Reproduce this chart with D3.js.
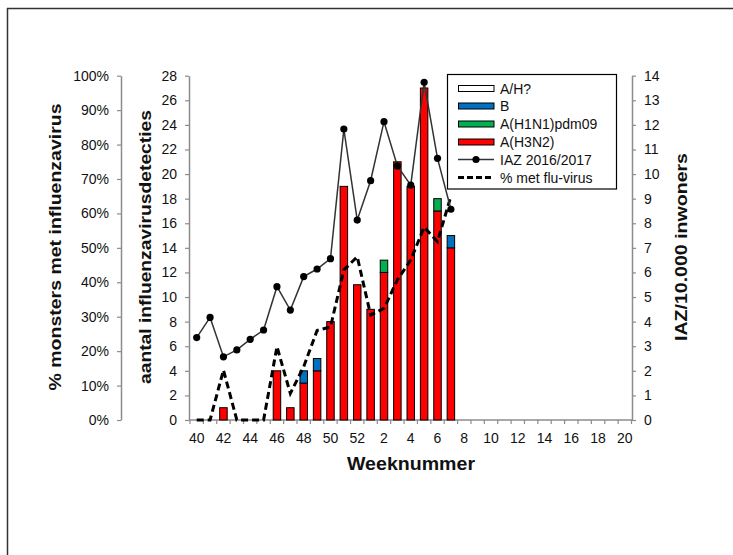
<!DOCTYPE html>
<html><head><meta charset="utf-8">
<script src="https://cdn.jsdelivr.net/npm/d3@7"></script>
<style>body{margin:0;background:#fff}svg{display:block}text{font-family:"Liberation Sans",Arial,sans-serif;fill:#111}</style>
</head><body><svg id="c" width="733" height="555"></svg>
<script>
const weeks = [40,41,42,43,44,45,46,47,48,49,50,51,52,1,2,3,4,5,6,7,8,9,10,11,12,13,14,15,16,17,18,19,20];
const weekLabels = [40,42,44,46,48,50,52,2,4,6,8,10,12,14,16,18,20];
const h3n2 = [0,0,1,0,0,0,4,1,3,4,8,19,11,9,12,21,19,27,17,14];
const h1n1 = [0,0,0,0,0,0,0,0,0,0,0,0,0,0,1,0,0,0,1,0];
const fluB = [0,0,0,0,0,0,0,0,1,1,0,0,0,0,0,0,0,0,0,1];
const ahUnknown = [0,0,0,0,0,0,0,0,0,0,0,0,0,0,0,0,0,0,0,0];
const iaz = [3.35,4.17,2.57,2.85,3.28,3.66,5.42,4.47,5.83,6.14,6.56,11.83,8.13,9.73,12.13,10.33,9.55,13.73,10.64,8.57];
const pctFlu = [0,0,0.145,0,0,0,0.213,0.077,0.155,0.26,0.27,0.436,0.474,0.305,0.324,0.407,0.465,0.56,0.518,0.65];
const pctTicks = [0,0.1,0.2,0.3,0.4,0.5,0.6,0.7,0.8,0.9,1];
const countTicks = d3.range(0,29,2);
const iazTicks = d3.range(0,15,1);
const seriesNames = ["A/H?","B","A(H1N1)pdm09","A(H3N2)"];
const seriesColors = {"A/H?":"#ffffff","B":"#0070c0","A(H1N1)pdm09":"#00b050","A(H3N2)":"#ff0000"};

const svg = d3.select("#c");
// frame
svg.append("line").attr("x1",7).attr("x2",733).attr("y1",8.5).attr("y2",8.5).attr("stroke","#333").attr("stroke-width",1.5);
svg.append("line").attr("x1",7.5).attr("x2",7.5).attr("y1",8).attr("y2",555).attr("stroke","#333").attr("stroke-width",1.5);

const y0 = 420, y1 = 75.7;
const x = d3.scaleBand().domain(weeks).range([190,631.5]).padding(0);
const yCount = d3.scaleLinear().domain([0,28]).range([y0,y1]);
const yPct = d3.scaleLinear().domain([0,1]).range([y0,y1]);
const yIaz = d3.scaleLinear().domain([0,14]).range([y0,y1]);
const axisColor = "#8c8c8c";

function styleAxis(g){
  g.selectAll(".domain").attr("stroke",axisColor).attr("stroke-width",1.5);
  g.selectAll(".tick line").attr("stroke",axisColor).attr("stroke-width",1.2);
  g.selectAll(".tick text").attr("font-size","14px").attr("fill","#111");
}
// percent axis
const gP = svg.append("g").attr("transform","translate(121,0)")
  .call(d3.axisLeft(yPct).tickValues(pctTicks).tickFormat(d3.format(".0%")).tickSize(4).tickSizeOuter(0).tickPadding(8));
styleAxis(gP);
// count axis
const gC = svg.append("g").attr("transform","translate(189,0)")
  .call(d3.axisLeft(yCount).tickValues(countTicks).tickSize(4).tickSizeOuter(0).tickPadding(8));
styleAxis(gC);
// right axis
const gR = svg.append("g").attr("transform","translate(632,0)")
  .call(d3.axisRight(yIaz).tickValues(iazTicks).tickSize(4).tickSizeOuter(0).tickPadding(8));
styleAxis(gR);
// x axis
const gX = svg.append("g").attr("transform",`translate(0,${y0})`);
gX.append("line").attr("x1",189).attr("x2",632).attr("y1",0).attr("y2",0).attr("stroke",axisColor).attr("stroke-width",1.5);
gX.selectAll("line.t").data(d3.range(weeks.length+1)).join("line").attr("class","t")
  .attr("x1",i=>190+i*x.step()).attr("x2",i=>190+i*x.step()).attr("y1",0).attr("y2",4)
  .attr("stroke",axisColor).attr("stroke-width",1.2);
gX.selectAll("text").data(weekLabels).join("text")
  .attr("x",d=>x(d)+x.bandwidth()/2).attr("y",23).attr("text-anchor","middle").attr("font-size","14px").text(d=>d);

// stacked bars
const rows = h3n2.map((v,i)=>({week:weeks[i],"A(H3N2)":v,"A(H1N1)pdm09":h1n1[i],"B":fluB[i],"A/H?":ahUnknown[i]}));
const stack = d3.stack().keys(["A(H3N2)","A(H1N1)pdm09","B","A/H?"])(rows);
const bw = x.bandwidth()*0.56;
stack.forEach(s=>{
  svg.append("g").selectAll("rect").data(s.filter(d=>d[1]-d[0]>0)).join("rect")
    .attr("x",d=>x(d.data.week)+(x.bandwidth()-bw)/2).attr("width",bw)
    .attr("y",d=>yCount(d[1])).attr("height",d=>yCount(d[0])-yCount(d[1]))
    .attr("fill",seriesColors[s.key]).attr("stroke","#000").attr("stroke-width",1);
});

// dashed percent line
const lineP = d3.line().x((d,i)=>x(weeks[i])+x.bandwidth()/2).y(d=>yPct(d));
svg.append("path").datum(pctFlu).attr("d",lineP).attr("fill","none").attr("stroke","#000")
  .attr("stroke-width",3).attr("stroke-dasharray","7,4");
// IAZ line
const lineI = d3.line().x((d,i)=>x(weeks[i])+x.bandwidth()/2).y(d=>yIaz(d));
svg.append("path").datum(iaz).attr("d",lineI).attr("fill","none").attr("stroke","#333").attr("stroke-width",1.5);
svg.append("g").selectAll("circle").data(iaz).join("circle")
  .attr("cx",(d,i)=>x(weeks[i])+x.bandwidth()/2).attr("cy",d=>yIaz(d)).attr("r",3.6).attr("fill","#000");

// axis titles
svg.append("text").attr("transform","translate(61,247) rotate(-90)").attr("text-anchor","middle")
  .attr("font-size","17px").attr("font-weight","bold").attr("textLength",287).attr("lengthAdjust","spacingAndGlyphs")
  .text("% monsters met influenzavirus");
svg.append("text").attr("transform","translate(151,247) rotate(-90)").attr("text-anchor","middle")
  .attr("font-size","17px").attr("font-weight","bold").attr("textLength",274).attr("lengthAdjust","spacingAndGlyphs")
  .text("aantal influenzavirusdetecties");
svg.append("text").attr("transform","translate(687,247) rotate(-90)").attr("text-anchor","middle")
  .attr("font-size","17px").attr("font-weight","bold").attr("textLength",188).attr("lengthAdjust","spacingAndGlyphs")
  .text("IAZ/10.000  inwoners");
svg.append("text").attr("x",411).attr("y",470).attr("text-anchor","middle")
  .attr("font-size","18px").attr("font-weight","bold").attr("textLength",128).attr("lengthAdjust","spacingAndGlyphs")
  .text("Weeknummer");

// legend
const lg = svg.append("g");
lg.append("rect").attr("x",447.5).attr("y",74.5).attr("width",169).attr("height",114.5).attr("fill","#fff").attr("stroke","#000").attr("stroke-width",1.2);
const rowY = [88.5,106,124,142,159.5,177.5];
seriesNames.forEach((n,i)=>{
  lg.append("rect").attr("x",458.5).attr("y",rowY[i]-3).attr("width",35.5).attr("height",6)
    .attr("fill",seriesColors[n]).attr("stroke","#000").attr("stroke-width",1);
  lg.append("text").attr("x",500).attr("y",rowY[i]+5).attr("font-size","14px").text(n);
});
lg.append("line").attr("x1",458).attr("x2",494).attr("y1",rowY[4]).attr("y2",rowY[4]).attr("stroke","#333").attr("stroke-width",1.5);
lg.append("circle").attr("cx",476).attr("cy",rowY[4]).attr("r",3.6).attr("fill","#000");
lg.append("text").attr("x",500).attr("y",rowY[4]+5).attr("font-size","14px").text("IAZ 2016/2017");
lg.append("line").attr("x1",458).attr("x2",494).attr("y1",rowY[5]).attr("y2",rowY[5]).attr("stroke","#000").attr("stroke-width",3).attr("stroke-dasharray","6,3");
lg.append("text").attr("x",500).attr("y",rowY[5]+5).attr("font-size","14px").text("% met  flu-virus");
</script></body></html>
